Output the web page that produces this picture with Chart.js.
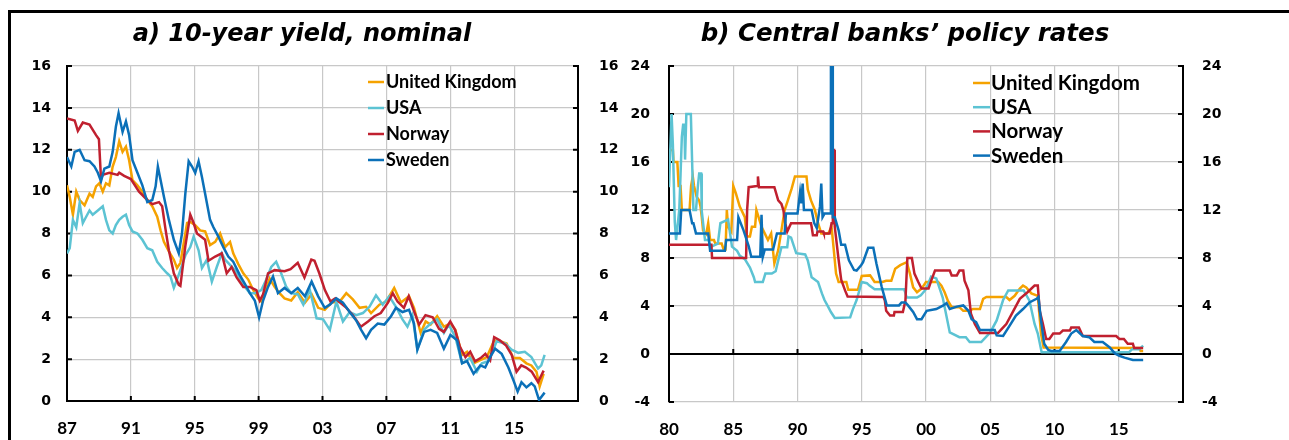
<!DOCTYPE html>
<html>
<head>
<meta charset="utf-8">
<script src="https://cdn.jsdelivr.net/npm/chart.js@4.4.1/dist/chart.umd.min.js"></script>
<style>
  html, body { margin:0; padding:0; background:#fff; overflow:hidden; }
  #frame { position:absolute; left:8px; top:10px; width:1400px; height:600px; border-top:3px solid #000; border-left:3px solid #000; }
  canvas { position:absolute; top:0; }
</style>
</head>
<body>
<div id="frame"></div>
<canvas id="c1" width="626" height="440" style="left:0px"></canvas>
<canvas id="c2" width="663" height="440" style="left:626px"></canvas>
<script>
// ---------- shared ----------
const seriesNames = ['United Kingdom', 'USA', 'Norway', 'Sweden'];
const seriesColors = ['#F5A200', '#5CC3D3', '#C0202F', '#0B70B8'];

// ---------- panel a) 10-year yield, nominal ----------
const yieldTitle = 'a) 10-year yield, nominal';
const yieldXTicks = [1987, 1991, 1995, 1999, 2003, 2007, 2011, 2015, 2019];
const yieldXLabels = ['87', '91', '95', '99', '03', '07', '11', '15'];
const yieldYTicks = [0, 2, 4, 6, 8, 10, 12, 14, 16];

const ukYield = [[1987.0,10.3],[1987.17,9.75],[1987.37,8.9],[1987.58,10.0],[1987.79,9.6],[1988.1,9.35],[1988.41,9.9],[1988.61,9.75],[1988.82,10.25],[1989.03,10.4],[1989.24,10.0],[1989.44,10.4],[1989.65,10.3],[1989.86,11.2],[1990.06,11.65],[1990.27,12.4],[1990.48,11.9],[1990.69,12.15],[1990.89,11.5],[1991.1,10.55],[1991.41,10.3],[1991.72,10.0],[1992.03,9.6],[1992.34,9.3],[1992.65,8.8],[1992.86,8.15],[1993.07,7.6],[1993.38,7.15],[1993.69,6.75],[1993.89,6.35],[1994.1,6.6],[1994.31,7.55],[1994.52,8.5],[1994.72,8.55],[1995.03,8.4],[1995.34,8.15],[1995.65,8.1],[1995.96,7.45],[1996.28,7.6],[1996.59,8.0],[1996.9,7.35],[1997.21,7.6],[1997.41,7.05],[1997.72,6.55],[1998.04,6.1],[1998.35,5.8],[1998.66,5.3],[1998.97,4.9],[1999.17,4.75],[1999.38,5.15],[1999.69,5.85],[2000.0,5.45],[2000.31,5.15],[2000.62,4.9],[2001.04,4.8],[2001.45,5.2],[2001.9,4.7],[2002.32,5.1],[2002.73,4.45],[2003.14,4.35],[2003.56,4.7],[2004.08,4.75],[2004.49,5.15],[2004.9,4.85],[2005.32,4.45],[2005.73,4.5],[2006.04,4.2],[2006.56,4.6],[2006.98,4.75],[2007.49,5.4],[2007.91,4.7],[2008.42,5.0],[2008.73,4.45],[2009.15,3.25],[2009.46,3.8],[2009.77,3.65],[2010.18,4.05],[2010.6,3.55],[2011.01,3.7],[2011.32,3.4],[2011.74,2.2],[2012.05,2.35],[2012.46,1.8],[2012.88,1.95],[2013.29,2.1],[2013.75,2.9],[2014.12,2.85],[2014.53,2.75],[2014.95,2.05],[2015.36,2.05],[2015.77,1.8],[2016.08,1.7],[2016.4,1.4],[2016.6,0.7],[2016.85,1.3]];

const usaYield = [[1987.0,7.05],[1987.17,7.3],[1987.37,8.65],[1987.58,8.3],[1987.79,9.45],[1987.99,8.5],[1988.2,8.8],[1988.41,9.1],[1988.61,8.9],[1988.93,9.1],[1989.24,9.3],[1989.44,8.65],[1989.65,8.15],[1989.86,8.0],[1990.06,8.4],[1990.27,8.65],[1990.48,8.8],[1990.69,8.9],[1990.89,8.4],[1991.1,8.1],[1991.41,8.0],[1991.72,7.7],[1992.03,7.3],[1992.34,7.2],[1992.65,6.65],[1992.96,6.35],[1993.27,6.1],[1993.48,5.95],[1993.69,5.4],[1993.89,5.8],[1994.1,6.25],[1994.41,6.95],[1994.72,7.35],[1994.93,7.85],[1995.24,7.2],[1995.45,6.35],[1995.76,6.75],[1996.07,5.7],[1996.38,6.4],[1996.69,7.05],[1996.9,6.75],[1997.21,6.5],[1997.52,6.25],[1997.83,5.85],[1998.14,5.45],[1998.45,5.15],[1998.76,5.15],[1999.17,5.3],[1999.48,5.8],[1999.79,6.4],[2000.1,6.65],[2000.41,6.1],[2000.73,5.45],[2001.04,5.15],[2001.45,5.1],[2001.8,4.6],[2002.21,5.3],[2002.63,3.95],[2003.04,3.9],[2003.46,3.4],[2003.87,4.75],[2004.28,3.8],[2004.7,4.25],[2005.11,4.1],[2005.53,4.2],[2005.94,4.5],[2006.35,5.05],[2006.77,4.6],[2007.18,5.0],[2007.6,4.5],[2008.01,3.9],[2008.32,3.55],[2008.63,4.1],[2008.94,2.45],[2009.36,3.4],[2009.77,3.7],[2010.18,3.9],[2010.6,3.25],[2010.91,3.65],[2011.32,3.05],[2011.74,1.8],[2012.25,2.05],[2012.67,1.4],[2012.98,1.8],[2013.39,1.9],[2013.91,2.85],[2014.43,2.75],[2014.84,2.45],[2015.26,2.3],[2015.67,2.35],[2016.08,2.1],[2016.5,1.55],[2016.7,1.7],[2016.91,2.2]];

const norYield = [[1987.0,13.5],[1987.48,13.4],[1987.68,12.9],[1987.99,13.3],[1988.41,13.2],[1988.82,12.7],[1989.0,12.5],[1989.13,10.6],[1989.24,10.8],[1989.65,10.9],[1990.17,10.8],[1990.27,10.9],[1990.58,10.75],[1991.0,10.6],[1991.51,10.0],[1992.03,9.6],[1992.34,9.4],[1992.76,9.5],[1992.96,9.3],[1993.17,8.2],[1993.38,7.2],[1993.69,6.1],[1994.0,5.55],[1994.1,5.5],[1994.41,7.4],[1994.72,8.9],[1994.93,8.5],[1995.14,8.0],[1995.65,7.7],[1995.86,6.7],[1996.28,6.9],[1996.69,7.05],[1997.0,6.1],[1997.31,6.4],[1997.62,5.9],[1998.04,5.45],[1998.45,5.45],[1998.86,5.3],[1999.07,4.8],[1999.28,5.1],[1999.59,6.1],[2000.0,6.25],[2000.62,6.2],[2001.0,6.3],[2001.45,6.6],[2001.87,5.9],[2002.3,6.75],[2002.5,6.7],[2002.8,6.1],[2003.15,5.3],[2003.5,4.75],[2003.8,4.9],[2004.1,4.7],[2004.5,4.45],[2004.9,4.1],[2005.4,3.55],[2005.85,3.8],[2006.25,4.05],[2006.65,4.2],[2007.1,4.7],[2007.4,5.15],[2007.7,4.75],[2008.1,4.45],[2008.4,5.0],[2008.7,4.35],[2009.05,3.65],[2009.45,4.1],[2009.9,4.0],[2010.3,3.45],[2010.6,3.3],[2011.0,3.8],[2011.3,3.4],[2011.6,2.6],[2011.95,2.1],[2012.25,2.35],[2012.55,1.9],[2012.9,2.05],[2013.2,2.25],[2013.5,1.95],[2013.75,3.05],[2014.1,2.9],[2014.5,2.65],[2014.85,2.2],[2015.15,1.4],[2015.45,1.7],[2015.75,1.6],[2016.1,1.4],[2016.5,0.9],[2016.85,1.45]];

const sweYield = [[1987.0,11.65],[1987.27,11.2],[1987.48,11.9],[1987.79,12.0],[1988.1,11.5],[1988.41,11.45],[1988.72,11.2],[1988.93,10.9],[1989.13,10.5],[1989.34,11.1],[1989.65,11.2],[1989.86,11.9],[1990.06,13.1],[1990.23,13.75],[1990.48,12.85],[1990.69,13.35],[1990.89,12.7],[1991.1,11.5],[1991.41,10.9],[1991.72,10.3],[1992.03,9.5],[1992.34,9.6],[1992.55,10.25],[1992.69,11.2],[1992.86,10.55],[1993.07,9.75],[1993.38,8.65],[1993.69,7.7],[1994.0,7.05],[1994.2,8.0],[1994.41,9.9],[1994.62,11.45],[1994.83,11.2],[1995.03,10.9],[1995.24,11.45],[1995.45,10.7],[1995.65,9.9],[1995.96,8.65],[1996.17,8.3],[1996.48,7.85],[1996.79,7.35],[1997.1,6.9],[1997.41,6.65],[1997.83,6.0],[1998.14,5.6],[1998.45,5.15],[1998.76,4.8],[1999.03,4.0],[1999.28,4.8],[1999.59,5.45],[1999.9,5.95],[2000.21,5.15],[2000.62,5.4],[2001.04,5.15],[2001.45,5.4],[2001.9,5.0],[2002.32,5.7],[2002.73,5.0],[2003.14,4.45],[2003.46,4.6],[2003.87,4.9],[2004.28,4.7],[2004.7,4.25],[2005.11,3.85],[2005.42,3.4],[2005.73,3.0],[2006.04,3.4],[2006.46,3.7],[2006.87,3.65],[2007.29,4.05],[2007.6,4.45],[2008.01,4.25],[2008.42,4.35],[2008.73,3.7],[2008.94,2.45],[2009.36,3.3],[2009.77,3.4],[2010.18,3.25],[2010.6,2.5],[2011.01,3.15],[2011.43,2.9],[2011.74,1.8],[2012.05,1.9],[2012.46,1.3],[2012.88,1.7],[2013.19,1.6],[2013.5,2.1],[2013.81,2.5],[2014.22,2.25],[2014.64,1.6],[2014.95,1.0],[2015.22,0.45],[2015.46,0.9],[2015.77,0.65],[2016.08,0.85],[2016.29,0.7],[2016.56,0.05],[2016.91,0.4]];

// ---------- panel b) Central banks' policy rates ----------
const rateTitle = 'b) Central banks\u2019 policy rates';
const rateXTicks = [1980, 1985, 1990, 1995, 2000, 2005, 2010, 2015, 2020];
const rateXLabels = ['80', '85', '90', '95', '00', '05', '10', '15'];
const rateYTicks = [-4, 0, 4, 8, 12, 16, 20, 24];

const ukRate = [[1980.0,17],[1980.3,17],[1980.35,16],[1980.65,16],[1980.75,14],[1980.9,14],[1981.0,12],[1981.6,12],[1981.72,14],[1981.85,14.8],[1981.95,14],[1982.15,13.1],[1982.35,12.8],[1982.45,12.3],[1982.55,11.4],[1982.65,10.3],[1982.9,10.0],[1983.05,10.9],[1983.2,9.5],[1983.5,9.5],[1983.6,9.2],[1984.1,9.2],[1984.25,8.7],[1984.4,8.7],[1984.5,12],[1984.6,10.6],[1984.85,10.2],[1985.0,14],[1985.2,13.4],[1985.5,12.3],[1985.9,11.4],[1986.05,9.8],[1986.3,9.8],[1986.45,10.6],[1986.7,10.6],[1986.8,12],[1987.2,10.6],[1987.45,10.05],[1987.7,9.5],[1987.95,10.05],[1988.2,7.55],[1988.5,8.65],[1988.75,10.3],[1989.0,12],[1989.25,12.8],[1989.55,13.8],[1989.8,14.8],[1990.7,14.8],[1990.8,13.7],[1991.05,12.8],[1991.35,12],[1991.6,10.9],[1991.85,10.05],[1992.4,10.05],[1992.65,10.6],[1992.8,8.95],[1993.0,6.7],[1993.2,6.0],[1993.8,6.0],[1993.95,5.35],[1994.7,5.35],[1995.0,6.5],[1995.65,6.55],[1996.0,6.0],[1996.6,6.0],[1996.9,6.1],[1997.3,6.1],[1997.6,7.1],[1998.0,7.4],[1998.5,7.65],[1998.75,6.7],[1999.0,5.55],[1999.3,5.15],[1999.65,5.45],[2000.0,6.0],[2000.95,6.0],[2001.2,5.7],[2001.45,5.15],[2001.7,4.45],[2002.0,3.9],[2002.6,3.9],[2002.9,3.6],[2003.4,3.6],[2003.65,3.75],[2004.2,3.75],[2004.45,4.6],[2004.7,4.75],[2006.25,4.75],[2006.5,4.5],[2006.9,4.85],[2007.3,5.45],[2007.55,5.7],[2007.8,5.55],[2008.2,5.05],[2008.7,4.85],[2008.95,1.7],[2009.15,0.55],[2016.6,0.5],[2016.7,0.25],[2016.9,0.25]];

const usaRate = [[1980.0,13.9],[1980.1,17],[1980.2,20],[1980.3,17.5],[1980.45,11],[1980.55,9.5],[1980.8,12],[1980.9,15],[1981.0,18.1],[1981.1,19.1],[1981.2,19.1],[1981.25,16.2],[1981.35,20],[1981.7,20],[1981.8,16],[1981.9,12],[1982.1,12],[1982.25,14],[1982.35,15.05],[1982.5,15.05],[1982.55,11.9],[1982.8,9.5],[1983.1,9.5],[1983.2,8.9],[1983.8,9.2],[1984.0,10.9],[1984.6,11.2],[1984.9,8.95],[1985.3,8.6],[1985.5,8.2],[1985.9,7.9],[1986.3,7.2],[1986.6,6.4],[1986.7,6.0],[1987.3,6.0],[1987.5,6.7],[1988.0,6.7],[1988.3,6.9],[1988.5,7.8],[1988.75,8.9],[1989.2,8.9],[1989.3,9.8],[1989.5,9.7],[1989.9,8.4],[1990.6,8.3],[1990.8,7.8],[1991.1,6.4],[1991.6,6.0],[1991.9,5.05],[1992.1,4.5],[1992.4,3.9],[1992.6,3.5],[1992.9,3.0],[1994.1,3.05],[1994.3,3.7],[1994.6,4.5],[1995.0,6.0],[1995.4,5.9],[1995.6,5.7],[1996.0,5.4],[1998.3,5.4],[1998.5,4.7],[1999.3,4.7],[1999.6,4.9],[2000.0,5.4],[2000.4,6.45],[2000.8,6.3],[2001.3,4.7],[2001.85,1.8],[2002.6,1.4],[2003.1,1.4],[2003.4,1.0],[2004.3,1.0],[2005.0,1.8],[2005.5,2.8],[2006.0,4.5],[2006.4,5.3],[2007.6,5.3],[2008.05,4.45],[2008.45,2.5],[2008.7,1.7],[2009.0,0.15],[2015.8,0.15],[2016.05,0.4],[2016.6,0.4],[2016.9,0.7]];

const norRate = [[1980.0,9.1],[1983.3,9.1],[1983.35,8.0],[1986.0,8.0],[1986.08,12.0],[1986.2,13.9],[1986.85,14.0],[1986.92,14.8],[1987.0,13.9],[1988.2,13.9],[1988.5,12.8],[1988.75,12.5],[1988.9,12.0],[1989.05,10.9],[1989.2,10.2],[1989.5,10.9],[1991.05,10.9],[1991.1,10.6],[1991.2,9.9],[1991.5,9.9],[1991.55,10.2],[1992.0,10.2],[1992.05,10.05],[1992.5,10.05],[1992.65,10.9],[1992.75,10.9],[1992.8,17.0],[1992.85,17.0],[1992.9,10.6],[1993.2,7.85],[1993.4,6.2],[1993.7,5.3],[1993.9,4.8],[1996.7,4.75],[1996.8,4.45],[1996.9,3.6],[1997.2,3.2],[1997.5,3.2],[1997.55,3.5],[1998.2,3.5],[1998.4,4.45],[1998.55,8.0],[1998.9,8.0],[1999.1,6.7],[1999.4,6.0],[1999.65,5.45],[2000.2,5.45],[2000.4,6.1],[2000.7,6.95],[2001.85,6.95],[2002.0,6.55],[2002.4,6.55],[2002.6,6.95],[2002.9,6.95],[2003.0,6.1],[2003.3,5.3],[2003.5,3.35],[2003.8,2.5],[2004.2,1.75],[2005.6,1.75],[2005.9,2.1],[2006.25,2.5],[2006.8,3.6],[2007.3,4.6],[2007.9,5.15],[2008.45,5.7],[2008.7,5.7],[2008.85,3.6],[2009.1,2.5],[2009.35,1.25],[2009.6,1.25],[2009.9,1.7],[2010.4,1.7],[2010.65,1.95],[2011.2,1.95],[2011.3,2.2],[2011.9,2.2],[2012.2,1.5],[2014.8,1.5],[2015.05,1.25],[2015.4,1.25],[2015.7,0.85],[2016.1,0.85],[2016.2,0.5],[2016.9,0.5]];

const sweRate = [[1980.0,10.05],[1980.85,10.05],[1980.95,12],[1981.6,12],[1981.8,10.9],[1981.9,10.9],[1982.1,10.05],[1983.05,10.05],[1983.2,8.6],[1984.35,8.6],[1984.45,9.5],[1985.3,9.5],[1985.4,11.4],[1985.8,10.3],[1986.2,9.0],[1986.4,8.1],[1987.1,8.1],[1987.2,11.6],[1987.3,8.1],[1987.45,8.7],[1988.1,8.7],[1988.4,10.05],[1989.0,10.05],[1989.1,11.7],[1990.0,11.7],[1990.2,13.5],[1990.3,12.55],[1990.4,14.2],[1990.5,12.0],[1991.1,12.0],[1991.3,10.9],[1991.5,10.5],[1991.75,12.3],[1991.85,14.2],[1991.95,11.4],[1992.1,11.7],[1992.6,11.7],[1992.67,500],[1992.75,11.4],[1992.9,11.4],[1993.2,10.3],[1993.4,9.1],[1993.7,9.1],[1994.0,7.8],[1994.4,7.0],[1994.6,6.95],[1994.95,7.4],[1995.1,7.65],[1995.5,8.85],[1995.9,8.85],[1996.15,7.5],[1996.55,5.6],[1996.95,4.05],[1997.9,4.05],[1998.1,4.3],[1998.4,4.3],[1998.6,4.05],[1999.0,3.5],[1999.3,2.9],[1999.65,2.9],[2000.05,3.6],[2000.8,3.75],[2001.35,4.05],[2001.6,4.25],[2001.85,3.75],[2002.4,3.95],[2002.9,4.05],[2003.3,3.6],[2003.55,2.9],[2003.9,2.65],[2004.2,2.0],[2005.35,2.0],[2005.5,1.55],[2006.0,1.5],[2006.5,2.35],[2007.0,3.2],[2007.55,3.75],[2008.05,4.3],[2008.6,4.6],[2008.75,4.75],[2008.95,2.8],[2009.2,0.85],[2009.5,0.35],[2009.75,0.25],[2010.4,0.25],[2010.9,1.0],[2011.3,1.7],[2011.7,2.0],[2012.2,1.5],[2012.7,1.4],[2013.1,1.0],[2013.75,1.0],[2014.3,0.55],[2014.7,0.05],[2015.05,-0.15],[2015.45,-0.3],[2016.1,-0.5],[2016.9,-0.5]];

// ---------- styling ----------
const GRID = '#c8c8c8';
const Y_TICK_FONT = { family: 'DejaVu Sans', size: 14, weight: 'bold' };
const X_TICK_FONT = { family: 'Lato', size: 17, weight: 'bold' };

const titlePlugin = {
  id: 'panelTitle',
  afterDraw(chart, args, o) {
    const ctx = chart.ctx;
    ctx.save();
    ctx.font = o.font;
    ctx.fillStyle = '#000';
    ctx.textAlign = 'center';
    ctx.textBaseline = 'alphabetic';
    ctx.fillText(o.text, o.x, o.y);
    ctx.restore();
  }
};

const legendPlugin = {
  id: 'lineLegend',
  afterDraw(chart, args, o) {
    const ctx = chart.ctx;
    ctx.save();
    ctx.font = o.font;
    ctx.textAlign = 'left';
    ctx.textBaseline = 'alphabetic';
    chart.data.datasets.forEach((ds, i) => {
      const by = o.y + i * o.dy;
      ctx.strokeStyle = ds.borderColor;
      ctx.lineWidth = 2.5;
      ctx.beginPath();
      ctx.moveTo(o.x, by - o.lineOffset);
      ctx.lineTo(o.x + o.lineLen, by - o.lineOffset);
      ctx.stroke();
      ctx.fillStyle = '#000';
      ctx.fillText(ds.label, o.x + o.lineLen + o.gap, by);
    });
    ctx.restore();
  }
};

const innerTicksPlugin = {
  id: 'innerTicks',
  beforeDatasetsDraw(chart, args, o) {
    const ctx = chart.ctx, a = chart.chartArea;
    ctx.save();
    ctx.strokeStyle = '#000';
    ctx.lineWidth = 2;
    const yS = chart.scales.y, xS = chart.scales.x;
    ctx.beginPath();
    yS.ticks.forEach(t => {
      const py = yS.getPixelForValue(t.value);
      ctx.moveTo(a.left, py); ctx.lineTo(a.left + o.len, py);
      ctx.moveTo(a.right, py); ctx.lineTo(a.right - o.len, py);
    });
    const base = yS.getPixelForValue(o.xAt);
    xS.ticks.forEach(t => {
      const px = xS.getPixelForValue(t.value);
      ctx.moveTo(px, base); ctx.lineTo(px, base - o.len);
    });
    ctx.stroke();
    ctx.restore();
  }
};

function makeDatasets(arrays) {
  const drawOrder = [3, 2, 1, 0]; // Sweden drawn on top
  return arrays.map((d, i) => ({
    label: seriesNames[i],
    data: d,
    borderColor: seriesColors[i],
    backgroundColor: seriesColors[i],
    borderWidth: 2.5,
    pointRadius: 0,
    tension: 0,
    fill: false,
    order: drawOrder[i]
  }));
}

function makeOptions(cfg) {
  return {
    responsive: false,
    animation: false,
    devicePixelRatio: 1,
    layout: { padding: { top: 66, left: 0, right: 0, bottom: 0 } },
    plugins: {
      legend: { display: false },
      tooltip: { enabled: false },
      title: { display: false },
      panelTitle: cfg.title,
      lineLegend: cfg.legend,
      innerTicks: { len: 5, xAt: cfg.xAt }
    },
    scales: {
      x: {
        type: 'linear',
        min: cfg.xTicks[0], max: cfg.xTicks[cfg.xTicks.length - 1],
        afterBuildTicks: s => { s.ticks = cfg.xTicks.map(v => ({ value: v })); },
        afterFit: s => { s.height = cfg.xHeight; },
        ticks: {
          autoSkip: false, maxRotation: 0, font: X_TICK_FONT, color: '#000', padding: cfg.xPad,
          callback: (v, i) => (cfg.xLabels[i] !== undefined ? cfg.xLabels[i] : '')
        },
        grid: { color: GRID, lineWidth: 1.2, drawTicks: false },
        border: cfg.xBorder
      },
      y: {
        position: 'left',
        min: cfg.yTicks[0], max: cfg.yTicks[cfg.yTicks.length - 1],
        afterBuildTicks: s => { s.ticks = cfg.yTicks.map(v => ({ value: v })); },
        afterFit: s => { s.width = cfg.yLeftWidth; },
        ticks: { font: Y_TICK_FONT, color: '#000', padding: cfg.yLeftPad },
        grid: {
          drawTicks: false,
          color: c => (c.tick && c.tick.value === 0 && cfg.zeroBlack ? '#000' : GRID),
          lineWidth: c => (c.tick && c.tick.value === 0 && cfg.zeroBlack ? 2 : 1.2)
        },
        border: { display: true, color: '#000', width: 2 }
      },
      y2: {
        position: 'right',
        min: cfg.yTicks[0], max: cfg.yTicks[cfg.yTicks.length - 1],
        afterBuildTicks: s => { s.ticks = cfg.yTicks.map(v => ({ value: v })); },
        afterFit: s => { s.width = cfg.yRightWidth; },
        ticks: { font: Y_TICK_FONT, color: '#000', padding: cfg.yRightPad },
        grid: { display: false, drawTicks: false },
        border: { display: true, color: '#000', width: 2 }
      }
    }
  };
}

new Chart(document.getElementById('c1'), {
  type: 'line',
  data: { datasets: makeDatasets([ukYield, usaYield, norYield, sweYield]) },
  options: makeOptions({
    xTicks: yieldXTicks, xLabels: yieldXLabels, yTicks: yieldYTicks,
    xHeight: 39, xPad: 17, yLeftWidth: 67, yLeftPad: 16, yRightWidth: 48, yRightPad: 21,
    xBorder: { display: true, color: '#000', width: 2 }, zeroBlack: false, xAt: 0,
    title: { text: yieldTitle, font: 'bold italic 24px "DejaVu Sans"', x: 302, y: 41 },
    legend: { x: 368, y: 88, dy: 26, lineLen: 16, gap: 2, lineOffset: 6, font: 'bold 18px Lato' }
  }),
  plugins: [titlePlugin, legendPlugin, innerTicksPlugin]
});

new Chart(document.getElementById('c2'), {
  type: 'line',
  data: { datasets: makeDatasets([ukRate, usaRate, norRate, sweRate]) },
  options: makeOptions({
    xTicks: rateXTicks, xLabels: rateXLabels, yTicks: rateYTicks,
    xHeight: 38, xPad: 17, yLeftWidth: 43, yLeftPad: 19, yRightWidth: 106, yRightPad: 19,
    xBorder: { display: false }, zeroBlack: true, xAt: 0,
    title: { text: rateTitle, font: 'bold italic 24.5px "DejaVu Sans"', x: 279, y: 41 },
    legend: { x: 347, y: 90, dy: 24.2, lineLen: 17, gap: 1, lineOffset: 7, font: 'bold 20.5px Lato' }
  }),
  plugins: [titlePlugin, legendPlugin, innerTicksPlugin]
});
</script>
</body>
</html>
